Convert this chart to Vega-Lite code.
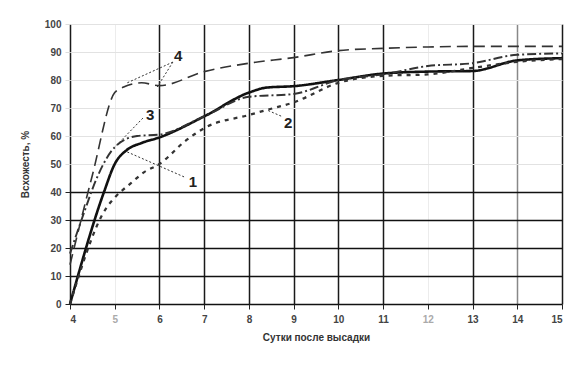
{
  "$schema": "https://vega.github.io/schema/vega-lite/v6.json",
  "width": 492,
  "height": 280,
  "autosize": {"type": "none"},
  "padding": {"left": 70, "top": 24, "right": 10, "bottom": 63},
  "background": "white",
  "config": {
    "view": {"stroke": null},
    "font": "Liberation Sans",
    "axis": {"labelFont": "Liberation Sans", "titleFont": "Liberation Sans", "labelFontSize": 10, "labelFontWeight": "bold", "labelColor": "#444", "titleFontSize": 10, "titleFontWeight": "bold", "titleColor": "#333", "domain": false, "tickColor": "#222", "tickSize": 5, "labelOverlap": false}
  },
  "datasets": {
    "curves": [
      {"day": 4, "pct": 0, "s": "1"}, {"day": 4.76, "pct": 40, "s": "1"}, {"day": 5, "pct": 50, "s": "1"}, {"day": 5.27, "pct": 55, "s": "1"}, {"day": 5.6, "pct": 57.5, "s": "1"}, {"day": 6, "pct": 59.5, "s": "1"}, {"day": 7, "pct": 67, "s": "1"}, {"day": 8, "pct": 75.5, "s": "1"}, {"day": 8.4, "pct": 77.3, "s": "1"}, {"day": 9, "pct": 77.8, "s": "1"}, {"day": 10, "pct": 80, "s": "1"}, {"day": 11, "pct": 82.3, "s": "1"}, {"day": 12, "pct": 83, "s": "1"}, {"day": 13, "pct": 83.2, "s": "1"}, {"day": 14, "pct": 87, "s": "1"}, {"day": 15, "pct": 87.8, "s": "1"},
      {"day": 4, "pct": 0, "s": "2"}, {"day": 4.8, "pct": 34, "s": "2"}, {"day": 5, "pct": 38, "s": "2"}, {"day": 5.35, "pct": 43, "s": "2"}, {"day": 5.65, "pct": 47, "s": "2"}, {"day": 6, "pct": 50, "s": "2"}, {"day": 6.6, "pct": 58.5, "s": "2"}, {"day": 7, "pct": 62.8, "s": "2"}, {"day": 8, "pct": 67.5, "s": "2"}, {"day": 8.4, "pct": 69.3, "s": "2"}, {"day": 9, "pct": 72, "s": "2"}, {"day": 10, "pct": 79, "s": "2"}, {"day": 11, "pct": 81.5, "s": "2"}, {"day": 12, "pct": 82, "s": "2"}, {"day": 13, "pct": 84.3, "s": "2"}, {"day": 14, "pct": 86.5, "s": "2"}, {"day": 15, "pct": 87.5, "s": "2"},
      {"day": 4, "pct": 18, "s": "3"}, {"day": 4.3, "pct": 32, "s": "3"}, {"day": 4.6, "pct": 45, "s": "3"}, {"day": 5, "pct": 56, "s": "3"}, {"day": 5.5, "pct": 60, "s": "3"}, {"day": 6, "pct": 60.5, "s": "3"}, {"day": 7, "pct": 67, "s": "3"}, {"day": 8, "pct": 74, "s": "3"}, {"day": 9, "pct": 75, "s": "3"}, {"day": 10, "pct": 80, "s": "3"}, {"day": 11, "pct": 82, "s": "3"}, {"day": 12, "pct": 85, "s": "3"}, {"day": 13, "pct": 86, "s": "3"}, {"day": 14, "pct": 89, "s": "3"}, {"day": 15, "pct": 89.5, "s": "3"},
      {"day": 4, "pct": 14, "s": "4"}, {"day": 4.5, "pct": 46, "s": "4"}, {"day": 5, "pct": 75.5, "s": "4"}, {"day": 5.2, "pct": 77.5, "s": "4"}, {"day": 5.6, "pct": 79, "s": "4"}, {"day": 6, "pct": 78, "s": "4"}, {"day": 7, "pct": 83, "s": "4"}, {"day": 8, "pct": 86, "s": "4"}, {"day": 9, "pct": 88, "s": "4"}, {"day": 10, "pct": 90.5, "s": "4"}, {"day": 11, "pct": 91.3, "s": "4"}, {"day": 12, "pct": 91.8, "s": "4"}, {"day": 13, "pct": 92, "s": "4"}, {"day": 14, "pct": 92, "s": "4"}, {"day": 15, "pct": 92, "s": "4"}
    ],
    "labels": [
      {"day": 6.42, "pct": 88.5, "t": "4"},
      {"day": 5.79, "pct": 67.5, "t": "3"},
      {"day": 6.75, "pct": 43.5, "t": "1"},
      {"day": 8.88, "pct": 64.5, "t": "2"}
    ],
    "leaders": [
      {"day": 6.3, "pct": 86.4, "day2": 5.28, "pct2": 79},
      {"day": 6.3, "pct": 86.4, "day2": 5.95, "pct2": 77.5},
      {"day": 5.63, "pct": 66.4, "day2": 5.0, "pct2": 56},
      {"day": 6.55, "pct": 45.4, "day2": 5.28, "pct2": 54.3},
      {"day": 8.72, "pct": 67.1, "day2": 8.4, "pct2": 69.3}
    ]
  },
  "encoding": {
    "x": {"field": "day", "type": "quantitative", "scale": {"domain": [4, 15], "nice": false, "zero": false},
      "axis": {"values": [4,5,6,7,8,9,10,11,12,13,14,15], "title": "Сутки после высадки", "titlePadding": 8, "labelPadding": 5,
        "gridColor": {"condition": [{"test": "datum.value == 5 || datum.value == 12", "value": "#ececec"}, {"test": "datum.value == 14", "value": "#888"}], "value": "#1a1a1a"},
        "gridWidth": {"condition": {"test": "datum.value == 5 || datum.value == 12", "value": 1}, "value": 1.5},
        "labelColor": {"condition": {"test": "datum.value == 5 || datum.value == 12", "value": "#aaa"}, "value": "#444"}}},
    "y": {"field": "pct", "type": "quantitative", "scale": {"domain": [0, 100], "nice": false},
      "axis": {"values": [0,10,20,30,40,50,60,70,80,90,100], "title": "Всхожесть, %", "titlePadding": 14, "labelPadding": 4,
        "gridColor": {"condition": {"test": "datum.value <= 40", "value": "#111"}, "value": "#e2e2e2"},
        "gridWidth": {"condition": {"test": "datum.value <= 40", "value": 1.5}, "value": 1.2},
        "tickColor": {"condition": {"test": "datum.value <= 40", "value": "#222"}, "value": "#ddd"}}}
  },
  "layer": [
    {
      "data": {"name": "curves"},
      "mark": {"type": "line", "interpolate": "monotone", "strokeCap": "butt"},
      "encoding": {
        "detail": {"field": "s"},
        "color": {"field": "s", "type": "nominal", "scale": {"domain": ["1","2","3","4"], "range": ["#111","#333","#333","#333"]}, "legend": null},
        "strokeDash": {"field": "s", "type": "nominal", "scale": {"domain": ["1","2","3","4"], "range": [[1,0],[4,5],[9,3,2,3],[11,6]]}, "legend": null},
        "strokeWidth": {"field": "s", "type": "nominal", "scale": {"domain": ["1","2","3","4"], "range": [2.6,1.6,1.6,1.6]}, "legend": null}
      }
    },
    {
      "data": {"name": "leaders"},
      "mark": {"type": "rule", "color": "#333", "strokeWidth": 1, "strokeDash": [2, 2]},
      "encoding": {
        "x2": {"field": "day2"},
        "y2": {"field": "pct2"}
      }
    },
    {
      "data": {"name": "labels"},
      "mark": {"type": "text", "font": "Liberation Sans", "fontSize": 15, "fontWeight": "bold", "color": "#222", "align": "center", "baseline": "middle"},
      "encoding": {
        "text": {"field": "t"}
      }
    }
  ]
}
